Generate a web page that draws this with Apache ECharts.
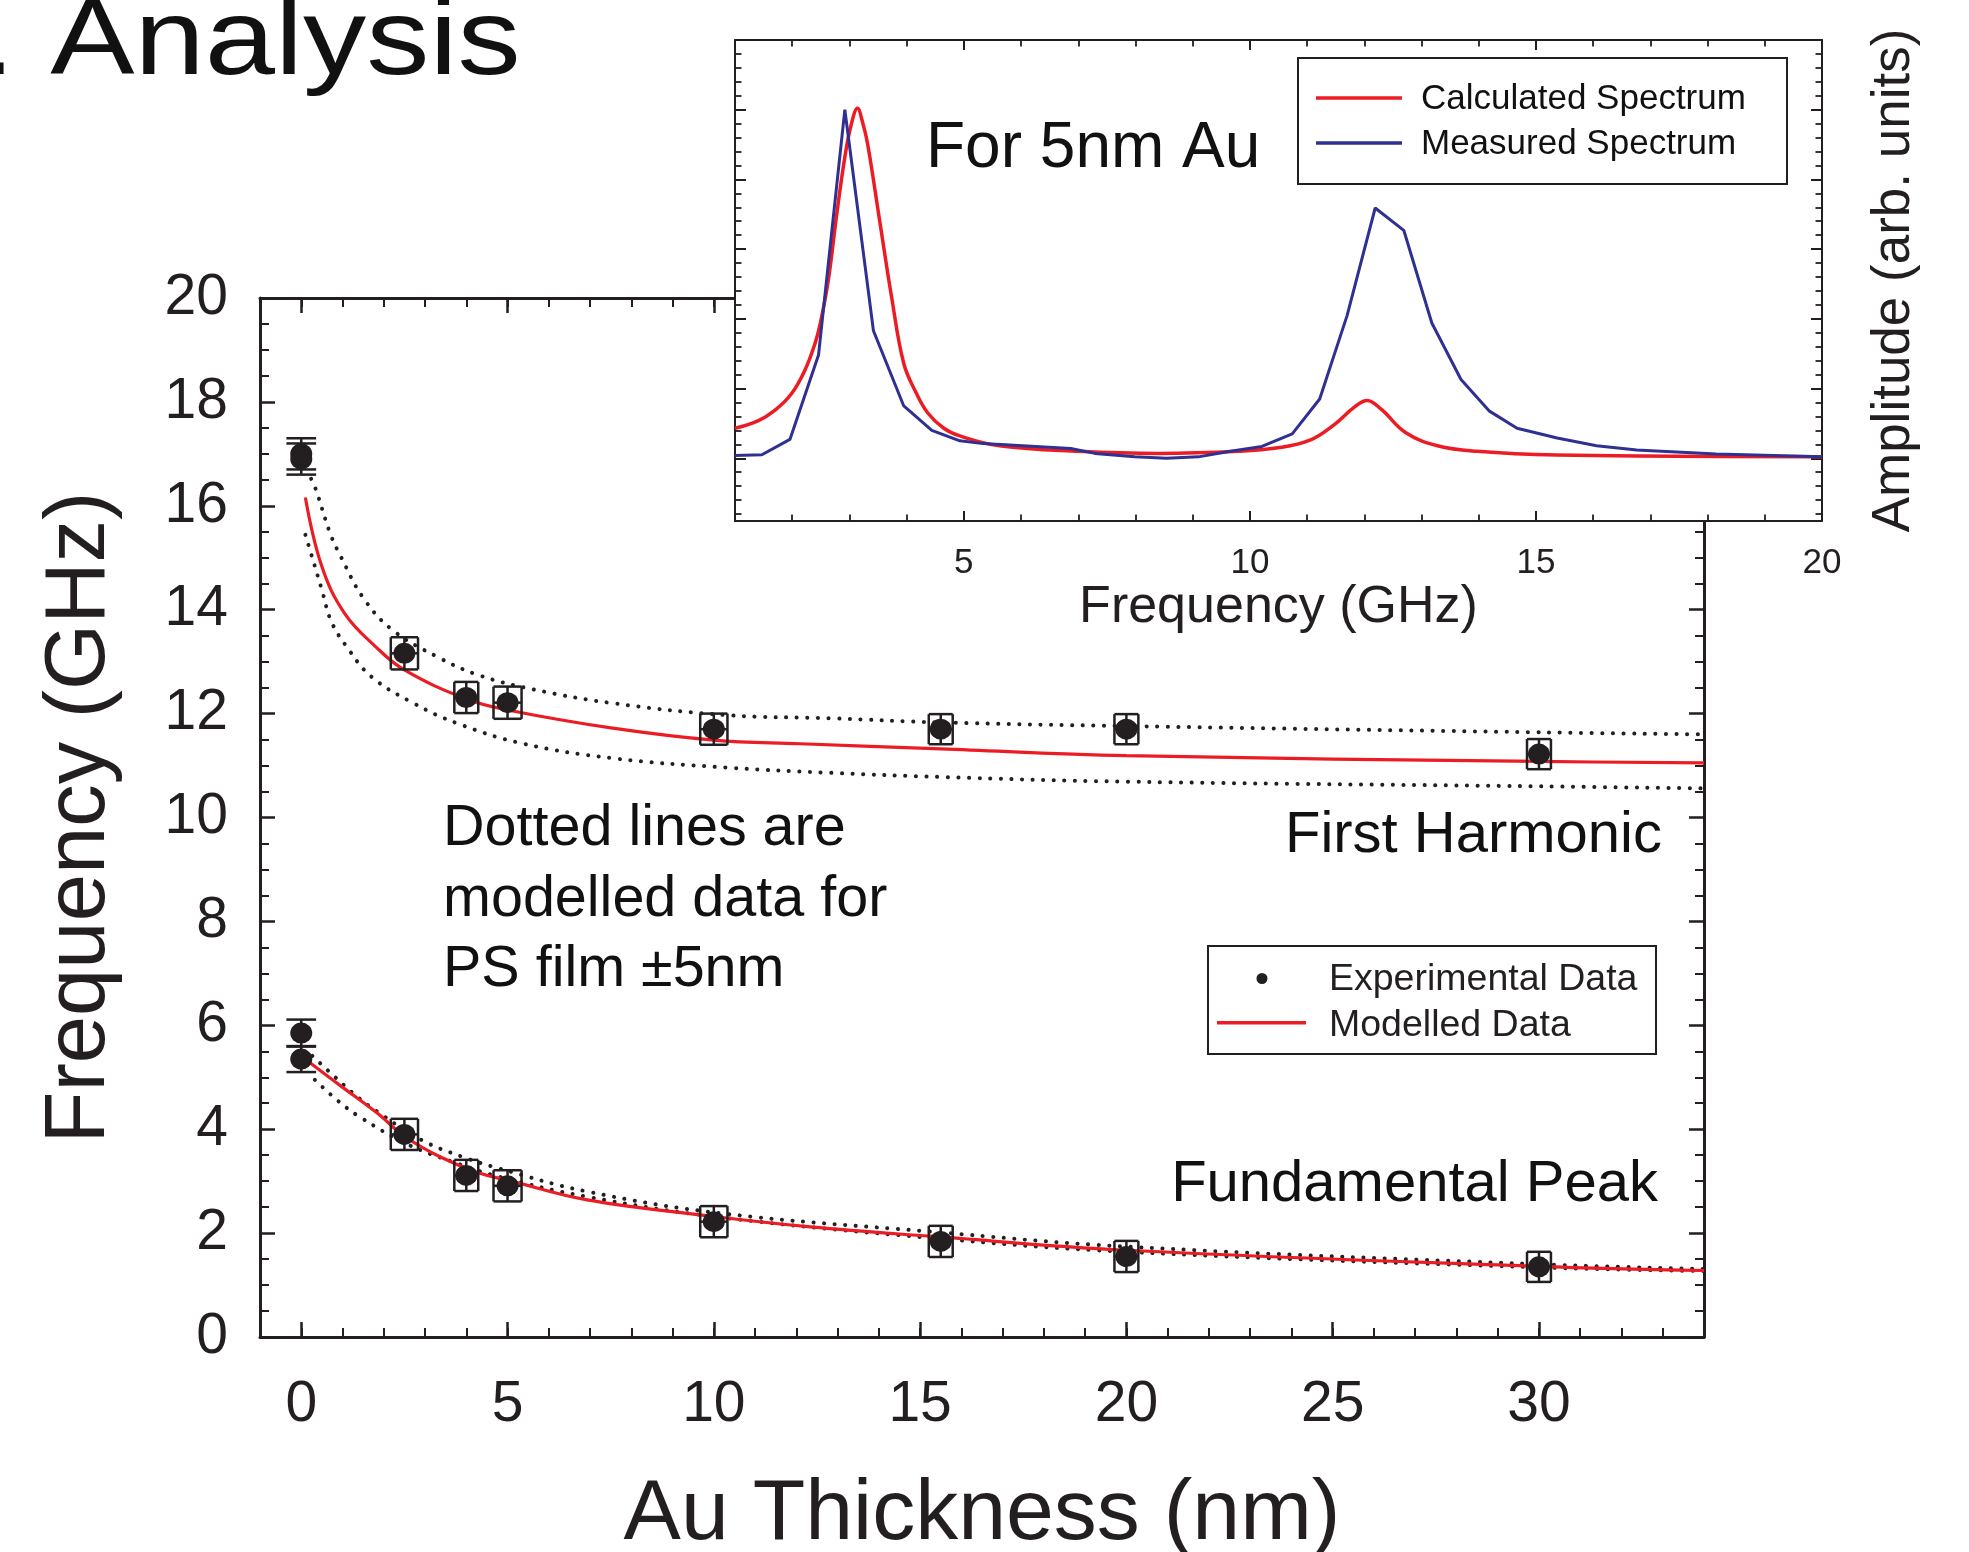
<!DOCTYPE html>
<html>
<head>
<meta charset="utf-8">
<script src="https://cdn.jsdelivr.net/npm/echarts@6/dist/echarts.min.js"></script>
<style>html,body{margin:0;padding:0;background:#fff}#c{width:1969px;height:1552px}</style>
</head>
<body>
<div id="c"></div>
<script>
// ---------------- DATA ----------------
// Main plot: experimental points
const thickness = [0, 0, 2.5, 4, 5, 10, 15.5, 20, 30];
const thicknessErr = [0, 0, 0.33, 0.29, 0.34, 0.33, 0.29, 0.29, 0.29];
const fundFreq = [5.85, 5.35, 3.90, 3.11, 2.91, 2.22, 1.84, 1.55, 1.35];
const fundErr = [0.26, 0.25, 0.30, 0.30, 0.30, 0.30, 0.30, 0.30, 0.29];
const harmFreq = [17.0, 16.9, 13.16, 12.31, 12.21, 11.70, 11.70, 11.70, 11.22];
const harmErr = [0.30, 0.30, 0.31, 0.30, 0.31, 0.30, 0.29, 0.29, 0.29];

// Main plot: modelled curves
const harmModelX = [0.1, 0.5, 1.05, 1.8, 2.5, 4, 5, 7.55, 10, 12.1, 15.5, 20, 30, 34];
const harmModelY = [16.16, 14.83, 13.93, 13.29, 12.84, 12.28, 12.07, 11.72, 11.49, 11.42, 11.32, 11.19, 11.08, 11.05];
const harmUpperX = [0.24, 0.36, 0.7, 0.96, 1.51, 2.21, 3.28, 4.3, 5.6, 7.55, 10.33, 12.83, 15.5, 20, 30, 34];
const harmUpperY = [16.52, 16.30, 15.47, 15.02, 14.22, 13.61, 13.10, 12.74, 12.47, 12.20, 11.97, 11.91, 11.83, 11.76, 11.64, 11.60];
const harmLowerX = [0.1, 0.26, 0.5, 0.73, 1.1, 1.7, 2.72, 3.79, 5.33, 7.55, 10.33, 12.83, 15.5, 20, 30, 34];
const harmLowerY = [15.44, 15.02, 14.38, 13.77, 13.29, 12.71, 12.20, 11.81, 11.43, 11.14, 10.96, 10.86, 10.78, 10.69, 10.60, 10.56];

const fundModelX = [0.09, 0.98, 1.84, 2.51, 3.36, 4.33, 5.0, 6.93, 10, 12.34, 15.24, 20, 30, 34];
const fundModelY = [5.35, 4.82, 4.31, 3.86, 3.47, 3.15, 3.02, 2.64, 2.32, 2.12, 1.94, 1.67, 1.36, 1.28];
const fundUpperX = [0.27, 0.81, 1.35, 1.84, 2.92, 3.9, 4.77, 6.93, 10.2, 15.24, 20, 30, 34];
const fundUpperY = [5.41, 5.01, 4.63, 4.34, 3.79, 3.47, 3.25, 2.80, 2.38, 2.03, 1.74, 1.40, 1.31];
const fundLowerX = [0.33, 0.87, 1.41, 2.6, 3.68, 4.77, 6.93, 10.2, 15.24, 20, 30, 34];
const fundLowerY = [4.95, 4.56, 4.24, 3.70, 3.37, 3.09, 2.70, 2.30, 1.91, 1.64, 1.34, 1.27];

// Inset: spectra for 5nm Au
const calcFreq = [1.0, 1.41, 1.70, 1.99, 2.22, 2.40, 2.49, 2.63, 2.78, 2.92, 3.03, 3.14, 3.23, 3.32, 3.53, 3.74, 3.95, 4.16, 4.37, 4.65, 4.93, 5.62, 7.01, 8.41, 9.80, 10.49, 11.05, 11.47, 11.82, 12.05, 12.30, 12.72, 13.28, 13.97, 15.37, 17.45, 20.0];
const calcAmp = [1.33, 1.44, 1.59, 1.83, 2.16, 2.55, 2.83, 3.45, 4.41, 5.22, 5.68, 5.92, 5.72, 5.40, 4.30, 3.20, 2.26, 1.85, 1.55, 1.33, 1.22, 1.08, 1.0, 0.97, 1.0, 1.05, 1.16, 1.38, 1.63, 1.73, 1.60, 1.27, 1.08, 1.0, 0.945, 0.93, 0.92];
const measFreq = [1.0, 1.47, 1.96, 2.46, 2.92, 3.42, 3.95, 4.44, 4.93, 5.34, 6.87, 7.29, 7.99, 8.54, 9.10, 9.66, 10.21, 10.74, 11.22, 11.70, 12.19, 12.69, 13.18, 13.69, 14.18, 14.67, 15.37, 16.06, 16.76, 18.15, 20.0];
const measAmp = [0.94, 0.95, 1.17, 2.38, 5.90, 2.73, 1.65, 1.30, 1.15, 1.11, 1.04, 0.97, 0.92, 0.90, 0.92, 1.0, 1.07, 1.25, 1.75, 2.95, 4.49, 4.17, 2.84, 2.03, 1.58, 1.33, 1.19, 1.08, 1.02, 0.96, 0.92];

// Tick labels
const thicknessTicks = [0, 5, 10, 15, 20, 25, 30];
const insetFreqTicks = [5, 10, 15];
const insetFreqLabels = [5, 10, 15, 20];
const insetAmpMajor = [0.9, 1.9, 2.9, 3.9, 4.9, 5.9, 6.9];

// ---------------- STYLE ----------------
const INK = '#231f20';
const RED = '#ec1c24';
const BLUE = '#2e3192';
const FONT = '"Liberation Sans", Arial, Helvetica, sans-serif';
const CAP_HALF = 0.36;

const insetAmpMinor = [];
for (let v = 0.1; v < 6.9; v += 0.2) insetAmpMinor.push(Math.round(v * 10) / 10);

const zip = (a, b) => a.map((v, i) => [v, b[i]]);

function errorBarItem(params, api) {
  const x = api.value(0), y = api.value(1), dy = api.value(2), dx = api.value(3);
  const cw = dx > 0 ? dx : CAP_HALF;
  const pT = api.coord([x, y + dy]), pB = api.coord([x, y - dy]);
  const pL = api.coord([x - cw, y]), pR = api.coord([x + cw, y]);
  const st = {stroke: INK, lineWidth: 2.5, fill: null};
  const ch = [
    {type: 'line', shape: {x1: pT[0], y1: pT[1], x2: pB[0], y2: pB[1]}, style: st},
    {type: 'line', shape: {x1: pL[0], y1: pT[1], x2: pR[0], y2: pT[1]}, style: st},
    {type: 'line', shape: {x1: pL[0], y1: pB[1], x2: pR[0], y2: pB[1]}, style: st}
  ];
  if (dx > 0) {
    ch.push({type: 'line', shape: {x1: pL[0], y1: pL[1], x2: pR[0], y2: pR[1]}, style: st});
    ch.push({type: 'line', shape: {x1: pL[0], y1: pT[1], x2: pL[0], y2: pB[1]}, style: st});
    ch.push({type: 'line', shape: {x1: pR[0], y1: pT[1], x2: pR[0], y2: pB[1]}, style: st});
  }
  return {type: 'group', children: ch};
}

const axLine = (w) => ({show: true, onZero: false, lineStyle: {color: INK, width: w}});
const noLine = {show: false, onZero: false};

const xAxes = [
  // main bottom major
  {gridIndex: 0, type: 'value', min: -1, max: 34, position: 'bottom', z: 1,
   axisLine: axLine(3), splitLine: {show: false},
   axisTick: {show: true, inside: true, length: 15, lineStyle: {color: INK, width: 2.5}, customValues: thicknessTicks},
   axisLabel: {show: true, customValues: thicknessTicks, fontSize: 57, margin: 40, color: INK, fontFamily: FONT},
   name: 'Au Thickness (nm)', nameLocation: 'middle', nameGap: 135,
   nameTextStyle: {fontSize: 86, color: INK, fontFamily: FONT}},
  // main bottom minor
  {gridIndex: 0, type: 'value', min: -1, max: 34, interval: 1, position: 'bottom', z: 1,
   axisLine: noLine, splitLine: {show: false}, axisLabel: {show: false},
   axisTick: {show: true, inside: true, length: 9, lineStyle: {color: INK, width: 2}}},
  // main top major
  {gridIndex: 0, type: 'value', min: -1, max: 34, position: 'top', z: 1,
   axisLine: axLine(3), splitLine: {show: false}, axisLabel: {show: false},
   axisTick: {show: true, inside: true, length: 15, lineStyle: {color: INK, width: 2.5}, customValues: thicknessTicks}},
  // main top minor
  {gridIndex: 0, type: 'value', min: -1, max: 34, interval: 1, position: 'top', z: 1,
   axisLine: noLine, splitLine: {show: false}, axisLabel: {show: false},
   axisTick: {show: true, inside: true, length: 9, lineStyle: {color: INK, width: 2}}},
  // inset bottom major
  {gridIndex: 1, type: 'value', min: 1, max: 20, position: 'bottom', z: 11,
   axisLine: axLine(2), splitLine: {show: false},
   axisTick: {show: true, inside: true, length: 10, lineStyle: {color: INK, width: 2}, customValues: insetFreqTicks},
   axisLabel: {show: true, customValues: insetFreqLabels, fontSize: 35, margin: 25, color: INK, fontFamily: FONT},
   name: 'Frequency (GHz)', nameLocation: 'middle', nameGap: 57,
   nameTextStyle: {fontSize: 52, color: INK, fontFamily: FONT}},
  // inset bottom minor
  {gridIndex: 1, type: 'value', min: 1, max: 20, interval: 1, position: 'bottom', z: 11,
   axisLine: noLine, splitLine: {show: false}, axisLabel: {show: false},
   axisTick: {show: true, inside: true, length: 6.5, lineStyle: {color: INK, width: 1.8}}},
  // inset top major
  {gridIndex: 1, type: 'value', min: 1, max: 20, position: 'top', z: 11,
   axisLine: axLine(2), splitLine: {show: false}, axisLabel: {show: false},
   axisTick: {show: true, inside: true, length: 10, lineStyle: {color: INK, width: 2}, customValues: insetFreqTicks}},
  // inset top minor
  {gridIndex: 1, type: 'value', min: 1, max: 20, interval: 1, position: 'top', z: 11,
   axisLine: noLine, splitLine: {show: false}, axisLabel: {show: false},
   axisTick: {show: true, inside: true, length: 6.5, lineStyle: {color: INK, width: 1.8}}}
];

const yAxes = [
  // main left
  {gridIndex: 0, type: 'value', min: 0, max: 20, interval: 2, position: 'left', z: 1,
   axisLine: axLine(3), splitLine: {show: false},
   axisTick: {show: true, inside: true, length: 15, lineStyle: {color: INK, width: 2.5}},
   minorTick: {show: true, splitNumber: 4, length: 9, lineStyle: {color: INK, width: 2}},
   axisLabel: {show: true, fontSize: 57, margin: 32, color: INK, fontFamily: FONT},
   name: 'Frequency (GHz)', nameLocation: 'middle', nameRotate: 90, nameGap: 137,
   nameTextStyle: {fontSize: 85, color: INK, fontFamily: FONT}},
  // main right
  {gridIndex: 0, type: 'value', min: 0, max: 20, interval: 2, position: 'right', z: 1,
   axisLine: axLine(3), splitLine: {show: false}, axisLabel: {show: false},
   axisTick: {show: true, inside: true, length: 15, lineStyle: {color: INK, width: 2.5}},
   minorTick: {show: true, splitNumber: 4, length: 9, lineStyle: {color: INK, width: 2}}},
  // inset left major
  {gridIndex: 1, type: 'value', min: 0, max: 6.9, position: 'left', z: 11,
   axisLine: axLine(2), splitLine: {show: false}, axisLabel: {show: false},
   axisTick: {show: true, inside: true, length: 11, lineStyle: {color: INK, width: 2}, customValues: insetAmpMajor}},
  // inset left minor
  {gridIndex: 1, type: 'value', min: 0, max: 6.9, position: 'left', z: 11,
   axisLine: noLine, splitLine: {show: false}, axisLabel: {show: false},
   axisTick: {show: true, inside: true, length: 6.5, lineStyle: {color: INK, width: 1.8}, customValues: insetAmpMinor}},
  // inset right major
  {gridIndex: 1, type: 'value', min: 0, max: 6.9, position: 'right', z: 11,
   axisLine: axLine(2), splitLine: {show: false}, axisLabel: {show: false},
   axisTick: {show: true, inside: true, length: 11, lineStyle: {color: INK, width: 2}, customValues: insetAmpMajor},
   name: 'Amplitude (arb. units)', nameLocation: 'middle', nameRotate: 90, nameGap: 46,
   nameTextStyle: {fontSize: 53, color: INK, fontFamily: FONT}},
  // inset right minor
  {gridIndex: 1, type: 'value', min: 0, max: 6.9, position: 'right', z: 11,
   axisLine: noLine, splitLine: {show: false}, axisLabel: {show: false},
   axisTick: {show: true, inside: true, length: 6.5, lineStyle: {color: INK, width: 1.8}, customValues: insetAmpMinor}}
];

const mainLine = (name, xs, ys) => ({
  name, type: 'line', xAxisIndex: 0, yAxisIndex: 0, data: zip(xs, ys),
  showSymbol: false, symbol: 'none', smooth: 0.4, z: 3,
  lineStyle: {color: RED, width: 3.2}
});
const dotLine = (name, xs, ys) => ({
  name, type: 'line', xAxisIndex: 0, yAxisIndex: 0, data: zip(xs, ys),
  showSymbol: false, symbol: 'none', smooth: 0.4, z: 2,
  lineStyle: {color: INK, width: 4, type: [0.1, 10.5], cap: 'round'}
});

const series = [
  dotLine('Harmonic +5nm', harmUpperX, harmUpperY),
  dotLine('Harmonic -5nm', harmLowerX, harmLowerY),
  dotLine('Fundamental +5nm', fundUpperX, fundUpperY),
  dotLine('Fundamental -5nm', fundLowerX, fundLowerY),
  mainLine('Modelled Data', harmModelX, harmModelY),
  mainLine('Modelled Data (fund.)', fundModelX, fundModelY),
  {name: 'Fundamental errors', type: 'custom', xAxisIndex: 0, yAxisIndex: 0, z: 4,
   renderItem: errorBarItem,
   data: thickness.map((t, i) => [t, fundFreq[i], fundErr[i], thicknessErr[i]])},
  {name: 'Harmonic errors', type: 'custom', xAxisIndex: 0, yAxisIndex: 0, z: 4,
   renderItem: errorBarItem,
   data: thickness.map((t, i) => [t, harmFreq[i], harmErr[i], thicknessErr[i]])},
  {name: 'Experimental Data', type: 'scatter', xAxisIndex: 0, yAxisIndex: 0, z: 5,
   symbol: 'circle', symbolSize: [22, 21], itemStyle: {color: INK, opacity: 1},
   data: zip(thickness, fundFreq)},
  {name: 'Experimental Data (harm.)', type: 'scatter', xAxisIndex: 0, yAxisIndex: 0, z: 5,
   symbol: 'circle', symbolSize: [22, 21], itemStyle: {color: INK, opacity: 1},
   data: zip(thickness, harmFreq)},
  // inset
  {name: 'Calculated Spectrum', type: 'line', xAxisIndex: 4, yAxisIndex: 2, z: 12,
   data: zip(calcFreq, calcAmp), showSymbol: false, symbol: 'none', smooth: 0.4,
   lineStyle: {color: RED, width: 3.5}},
  {name: 'Measured Spectrum', type: 'line', xAxisIndex: 4, yAxisIndex: 2, z: 13,
   data: zip(measFreq, measAmp), showSymbol: false, symbol: 'none', smooth: false,
   lineStyle: {color: BLUE, width: 3}}
];

const txt = (text, x, y, size, extra) => Object.assign({
  type: 'text', x, y, z: 100,
  style: {text, fill: '#111', font: size + 'px ' + FONT, textAlign: 'left', textVerticalAlign: 'top'}
}, extra || {});

const graphics = [
  // title fragment
  {type: 'text', x: -20, y: -10, scaleX: 1.17, z: 100,
   style: {text: '. Analysis', fill: '#111', font: '108px ' + FONT, textAlign: 'left', textVerticalAlign: 'top'}},
  // inset annotation
  txt('For 5nm Au', 926, 117.5, 64),
  // inset legend
  {type: 'rect', z: 100, shape: {x: 1298, y: 58, width: 489, height: 126},
   style: {fill: '#fff', stroke: INK, lineWidth: 2}},
  {type: 'line', z: 101, shape: {x1: 1316, y1: 98, x2: 1402, y2: 98}, style: {stroke: RED, lineWidth: 3.5}},
  {type: 'line', z: 101, shape: {x1: 1316, y1: 143, x2: 1402, y2: 143}, style: {stroke: BLUE, lineWidth: 3.5}},
  txt('Calculated Spectrum', 1421, 81.7, 35, {z: 101}),
  txt('Measured Spectrum', 1421, 126.8, 35, {z: 101}),
  // main annotations
  txt('Dotted lines are', 443, 800, 57.5),
  txt('modelled data for', 443, 871, 57.5),
  txt('PS film \u00b15nm', 443, 941, 57.5),
  {type: 'text', x: 1662, y: 807, z: 100,
   style: {text: 'First Harmonic', fill: '#111', font: '58px ' + FONT, textAlign: 'right', textVerticalAlign: 'top'}},
  {type: 'text', x: 1658, y: 1155.5, z: 100,
   style: {text: 'Fundamental Peak', fill: '#111', font: '58px ' + FONT, textAlign: 'right', textVerticalAlign: 'top'}},
  // main legend
  {type: 'rect', z: 100, shape: {x: 1208, y: 946, width: 448, height: 108},
   style: {fill: '#fff', stroke: INK, lineWidth: 2}},
  {type: 'circle', z: 101, shape: {cx: 1262, cy: 978.5, r: 5.5}, style: {fill: INK}},
  {type: 'line', z: 101, shape: {x1: 1217, y1: 1022.7, x2: 1306, y2: 1022.7}, style: {stroke: RED, lineWidth: 3.5}},
  txt('Experimental Data', 1329, 960.4, 37, {z: 101, style: {text: 'Experimental Data', fill: INK, font: '37.5px ' + FONT, textAlign: 'left', textVerticalAlign: 'top'}}),
  txt('Modelled Data', 1329, 1006.4, 37, {z: 101, style: {text: 'Modelled Data', fill: INK, font: '37.5px ' + FONT, textAlign: 'left', textVerticalAlign: 'top'}})
];

const chart = echarts.init(document.getElementById('c'), null, {renderer: 'canvas'});
chart.setOption({
  animation: false,
  backgroundColor: '#fff',
  textStyle: {fontFamily: FONT},
  grid: [
    {left: 260, top: 298, width: 1444, height: 1039, show: false, containLabel: false, outerBoundsMode: 'none'},
    {left: 735, top: 40, width: 1087, height: 481, show: true, backgroundColor: '#fff', borderWidth: 0,
     z: 10, containLabel: false, outerBoundsMode: 'none'}
  ],
  xAxis: xAxes,
  yAxis: yAxes,
  series: series,
  graphic: graphics
});
</script>
</body>
</html>
